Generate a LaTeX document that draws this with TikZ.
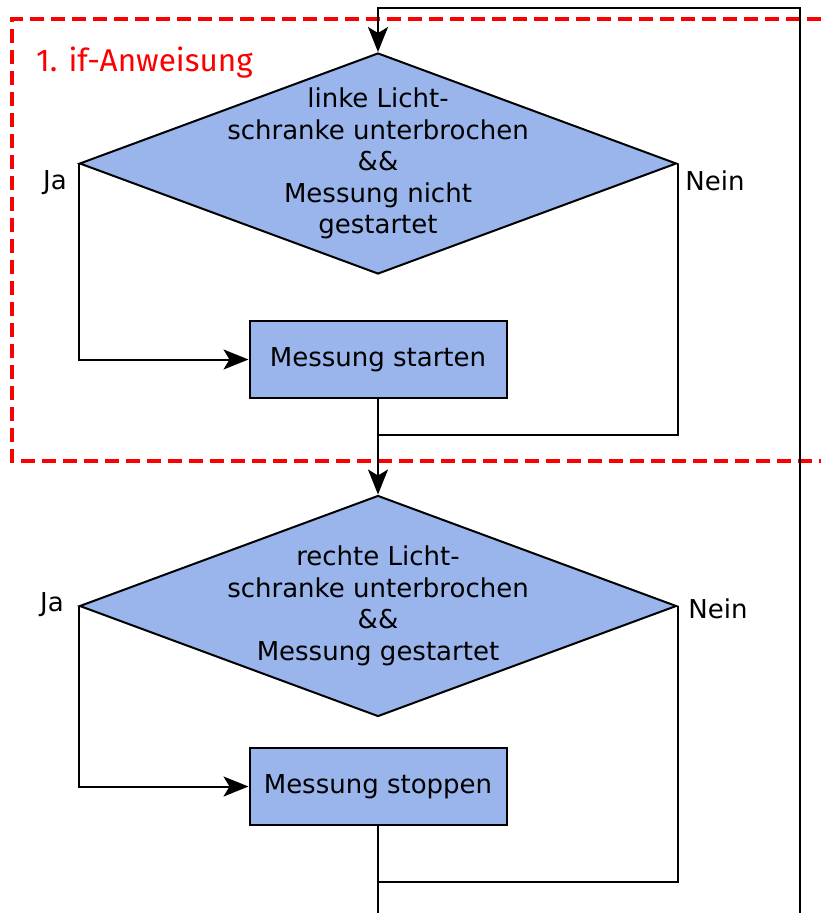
\documentclass[tikz,border=0pt]{standalone}
\usepackage{fontspec}
\setmainfont{DejaVu Sans}
\newfontfamily\firafont{Fira Sans}
\usetikzlibrary{shapes.geometric,arrows.meta}
\definecolor{boxblue}{RGB}{153,181,235}
\definecolor{redframe}{RGB}{250,0,0}
\tikzset{
  txt/.style={font=\fontsize{26}{31.5}\selectfont},
  decision/.style={diamond, draw=black, line width=2pt, fill=boxblue, inner sep=0pt,
     minimum width=597pt, minimum height=221pt},
  process/.style={rectangle, draw=black, line width=2pt, fill=boxblue, inner sep=0pt,
     minimum width=257pt, minimum height=77pt, txt},
  conn/.style={draw=black, line width=2pt},
  arrowconn/.style={conn, -{Stealth[length=25pt,width=20pt,inset=6pt]}},
  frame/.style={draw=redframe, line width=4.5pt, dash pattern=on 14pt off 7pt},
  answer/.style={txt, inner sep=0pt}
}
\begin{document}
\begin{tikzpicture}[x=1pt,y=-1pt]
\useasboundingbox (0,0) rectangle (821,913);

% red dashed frame
\coordinate (fTR) at (821,19);
\coordinate (fTL) at (12,19);
\coordinate (fBL) at (12,461);
\coordinate (fBR) at (821,461);
\draw[frame] (fTR) -- (fTL) -- (fBL) -- (fBR);
\node[anchor=base west, inner sep=0pt, text=redframe, font=\firafont\fontsize{31.5}{36}\selectfont] (title) at (36,71) {1. if-Anweisung};

% nodes
\node[decision, label={[txt, align=center]center:linke Licht-\\schranke unterbrochen\\\&\&\\Messung nicht\\gestartet}] (d1) at (378,163.5) {};
\node[process] (b1) at (378,359.5) {Messung starten};
\node[decision, label={[txt, align=center]center:rechte Licht-\\schranke unterbrochen\\\&\&\\Messung gestartet}] (d2) at (378,606) {};
\node[process] (b2) at (378,786.5) {Messung stoppen};

\node[answer] (ja1) at (55,183) {Ja};
\node[answer] (nein1) at (715,181) {Nein};
\node[answer] (ja2) at (52,605) {Ja};
\node[answer] (nein2) at (718,609) {Nein};

% coordinates
\coordinate (loopB) at (800,913);
\coordinate (loopTR) at (800,8);
\coordinate (loopTL) at (378,8);
\coordinate (j1) at (378,435);
\coordinate (j2) at (378,882);
\coordinate (endB) at (378,913);

% connectors
\draw[arrowconn] (loopB) -- (loopTR) -- (loopTL) -- (d1.north);
\draw[arrowconn] (d1.west) |- (b1.west);
\draw[conn] (d1.east) |- (j1);
\draw[arrowconn] (b1.south) -- (d2.north);
\draw[arrowconn] (d2.west) |- (b2.west);
\draw[conn] (d2.east) |- (j2);
\draw[conn] (b2.south) -- (endB);
\end{tikzpicture}
\end{document}
